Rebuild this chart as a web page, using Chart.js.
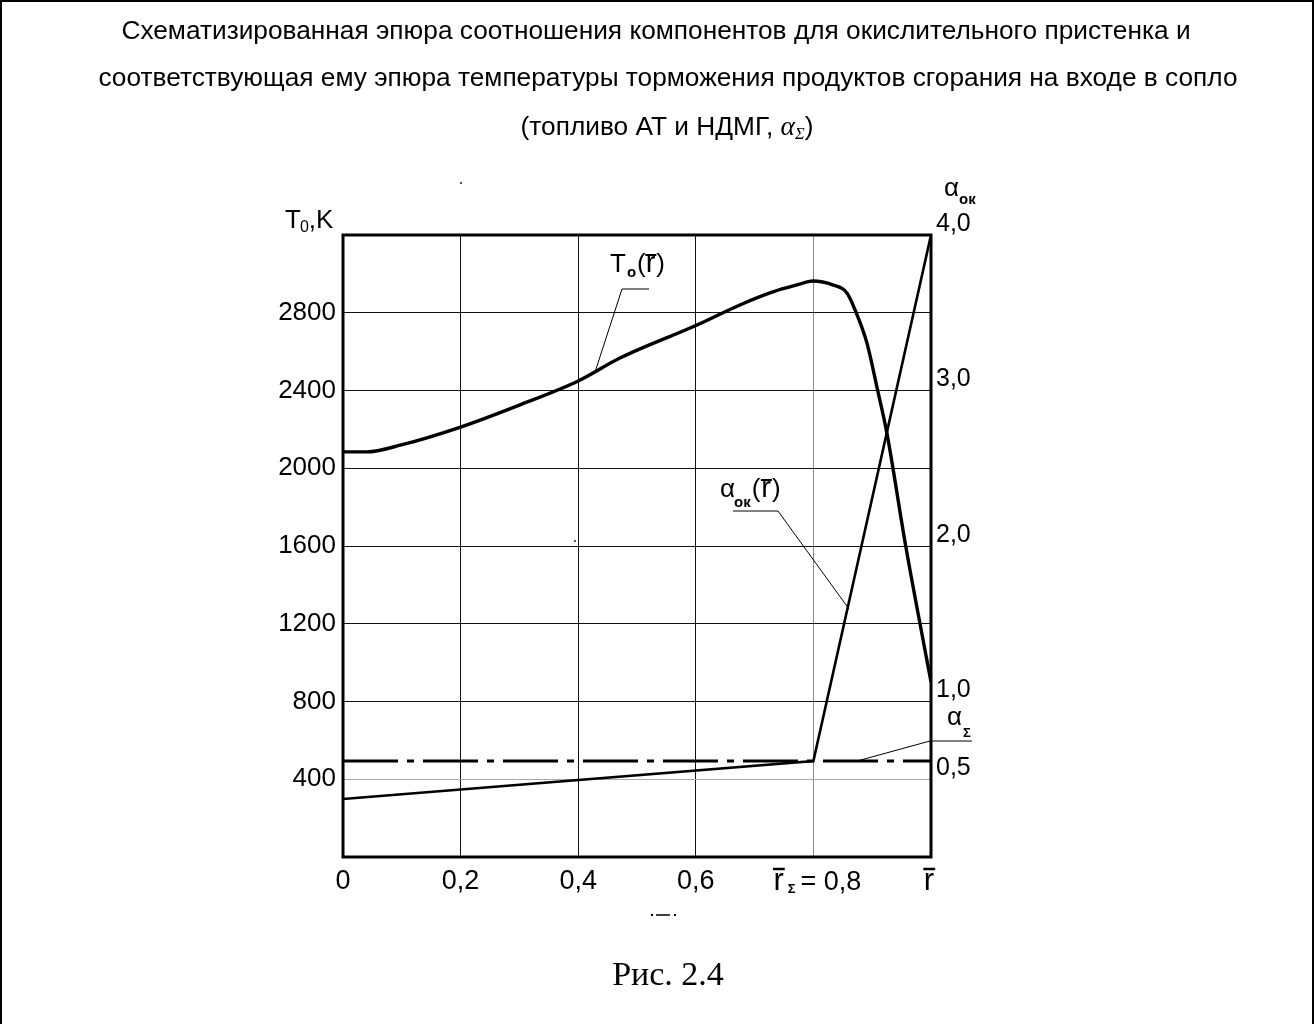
<!DOCTYPE html>
<html lang="ru">
<head>
<meta charset="utf-8">
<title>Эпюра</title>
<script src="https://cdn.jsdelivr.net/npm/chart.js@4.4.1/dist/chart.umd.min.js"></script>
<style>
html,body{margin:0;padding:0;background:#fff;overflow:hidden;}
canvas{display:block;}
</style>
</head>
<body>
<canvas id="chart" width="1314" height="1024"></canvas>
<script>
// ---------- data ----------
const titleLines = [
  'Схематизированная эпюра соотношения компонентов для окислительного пристенка и',
  'соответствующая ему эпюра температуры торможения продуктов сгорания на входе в сопло',
  '(топливо АТ и НДМГ, '
];
const caption = 'Рис. 2.4';

// relative radius r̄
const rBar = [0, 0.04, 0.099, 0.2, 0.3, 0.4, 0.471, 0.602, 0.675, 0.731, 0.772, 0.799, 0.833, 0.857, 0.871, 0.891, 0.908, 0.925, 0.957, 1.0];
// stagnation temperature T0, K
const T0 = [2084, 2084, 2120, 2212, 2325, 2449, 2567, 2737, 2840, 2907, 2943, 2963, 2943, 2902, 2814, 2645, 2418, 2181, 1600, 900];

// oxidizer/fuel ratio α_ок(r̄)
const alphaR = [0, 0.8, 1.0];
const alphaOk = [0.373, 0.617, 4.0];
// overall α_Σ
const alphaSigmaR = [0, 1.0];
const alphaSigma = 0.617;

// axes
const xTicks = [0, 0.2, 0.4, 0.6, 0.8, 1.0];
const xTickLabels = ['0', '0,2', '0,4', '0,6', 'r̄Σ = 0,8', 'r̄'];
const leftTicks = [400, 800, 1200, 1600, 2000, 2400, 2800];
const rightTicks = [0.5, 1, 2, 3, 4];
const rightTickLabels = ['0,5', '1,0', '2,0', '3,0', '4,0'];

// annotation anchor points (data coordinates)
const t0LabelTip = {x: 0.4286, y: 2495};
const alphaLabelTip = {x: 0.8605, y: 1.595};
const sigmaLabelTip = {x: 0.874, y: alphaSigma};

// ---------- drawing ----------
const SANS = '"Liberation Sans", Arial, Helvetica, sans-serif';
const SERIF = '"Liberation Serif", "Times New Roman", serif';

function drawRun(c, parts, x, y, align) {
  let w = 0;
  parts.forEach(p => { c.font = p.f; w += c.measureText(p.t).width + (p.dx || 0); });
  let cx = align === 'center' ? x - w / 2 : (align === 'right' ? x - w : x);
  c.textAlign = 'left';
  c.textBaseline = 'alphabetic';
  parts.forEach(p => {
    c.font = p.f;
    const pw = c.measureText(p.t).width;
    c.fillText(p.t, cx, y + (p.dy || 0));
    if (p.over) {
      c.save();
      c.lineWidth = p.overW || 2;
      c.beginPath();
      c.moveTo(cx - 0.5, y + (p.dy || 0) - p.over);
      c.lineTo(cx + pw + 1, y + (p.dy || 0) - p.over);
      c.stroke();
      c.restore();
    }
    cx += pw + (p.dx || 0);
  });
  return w;
}

function line(c, pts, w) {
  c.lineWidth = w;
  c.beginPath();
  c.moveTo(pts[0][0], pts[0][1]);
  for (let i = 1; i < pts.length; i++) c.lineTo(pts[i][0], pts[i][1]);
  c.stroke();
}

const overlay = {
  id: 'overlay',
  afterDraw(chart) {
    const c = chart.ctx, a = chart.chartArea;
    const xs = chart.scales.x, ys = chart.scales.y, y1 = chart.scales.y1;
    c.save();
    c.fillStyle = '#000';
    c.strokeStyle = '#000';

    // page frame
    line(c, [[1, 1024], [1, 1], [1313, 1], [1313, 1024]], 2);

    // plot frame
    c.lineWidth = 3;
    c.strokeRect(a.left, a.top, a.right - a.left, a.bottom - a.top);

    // title
    c.font = `100px ${SANS}`;
    const fs = 100 * 1140 / c.measureText(titleLines[1]).width;
    c.textAlign = 'center';
    c.textBaseline = 'alphabetic';
    c.font = `${fs}px ${SANS}`;
    c.fillText(titleLines[0], 656, 39);
    c.fillText(titleLines[1], 668, 86);
    drawRun(c, [
      {t: titleLines[2], f: `${fs}px ${SANS}`},
      {t: 'α', f: `italic ${fs * 1.05}px ${SERIF}`, dx: 0},
      {t: 'Σ', f: `italic ${fs * 0.62}px ${SERIF}`, dy: 4},
      {t: ')', f: `${fs}px ${SANS}`}
    ], 667, 135, 'center');

    // left axis title T0,K
    drawRun(c, [
      {t: 'T', f: `26px ${SANS}`, dx: -1},
      {t: '0', f: `16px ${SANS}`, dy: 4, dx: 0},
      {t: ',K', f: `26px ${SANS}`}
    ], 285, 228, 'left');

    // right axis title α_ок
    drawRun(c, [
      {t: 'α', f: `26px ${SANS}`, dx: 0},
      {t: 'ок', f: `bold 15px ${SANS}`, dy: 8}
    ], 944, 196, 'left');

    // special x tick labels
    const p08 = xs.getPixelForValue(xTicks[4]);
    drawRun(c, [
      {t: 'r', f: `31px ${SANS}`, over: 21, overW: 2.5, dx: 4},
      {t: 'Σ', f: `bold 13px ${SANS}`, dy: 3, dx: 5},
      {t: '= 0,8', f: `27px ${SANS}`}
    ], p08 + 4, 890, 'center');
    const p10 = xs.getPixelForValue(xTicks[5]);
    drawRun(c, [
      {t: 'r', f: `31px ${SANS}`, over: 21, overW: 2.5}
    ], p10 - 2, 890, 'center');

    // T0(r̄) label and leader
    drawRun(c, [
      {t: 'T', f: `26px ${SANS}`, dx: 1},
      {t: 'o', f: `bold 15px ${SANS}`, dy: 5, dx: 1},
      {t: '(', f: `26px ${SANS}`, dx: 0},
      {t: 'r', f: `29px ${SANS}`, over: 17, overW: 2, dx: 1},
      {t: ')', f: `26px ${SANS}`}
    ], 610, 272, 'left');
    const tT = [xs.getPixelForValue(t0LabelTip.x), ys.getPixelForValue(t0LabelTip.y)];
    line(c, [tT, [622, 289], [649, 289]], 1);

    // α_ок(r̄) label and leader
    drawRun(c, [
      {t: 'α', f: `26px ${SANS}`, dx: -1},
      {t: 'ок', f: `bold 15px ${SANS}`, dy: 10, dx: 1},
      {t: '(', f: `26px ${SANS}`, dx: 1},
      {t: 'r', f: `29px ${SANS}`, over: 17, overW: 2, dx: 1},
      {t: ')', f: `26px ${SANS}`}
    ], 720, 497, 'left');
    const tA = [xs.getPixelForValue(alphaLabelTip.x), y1.getPixelForValue(alphaLabelTip.y)];
    line(c, [tA, [778, 511], [733, 511]], 1);

    // α_Σ label and leader
    drawRun(c, [
      {t: 'α', f: `26px ${SANS}`, dx: 1},
      {t: 'Σ', f: `bold 13px ${SANS}`, dy: 12}
    ], 947, 725, 'left');
    const tS = [xs.getPixelForValue(sigmaLabelTip.x), y1.getPixelForValue(sigmaLabelTip.y)];
    line(c, [tS, [930, 741], [972, 741]], 1);

    // small stray marks of the original scan
    c.fillStyle = '#555';
    c.fillRect(460, 182, 2, 2);
    c.fillRect(574, 540, 2, 2);
    c.fillStyle = '#000';
    line(c, [[656, 915], [670, 915]], 1.5);
    c.fillRect(651, 914, 2, 2);
    c.fillRect(674, 914, 2, 2);

    // caption
    c.font = `34px ${SERIF}`;
    c.textAlign = 'center';
    c.fillText(caption, 668, 985);

    c.restore();
  }
};

const gridColorLeft = v => (v === 400 ? '#a8a8a8' : '#111');
const gridColorX = v => (v === 0 || v === 1 ? 'rgba(0,0,0,0)' : (v === 0.8 ? '#8a8a8a' : '#111'));

new Chart(document.getElementById('chart'), {
  type: 'line',
  data: {
    datasets: [
      {
        label: 'T0(r)',
        data: rBar.map((x, i) => ({x, y: T0[i]})),
        yAxisID: 'y',
        borderColor: '#000',
        borderWidth: 3.4,
        pointRadius: 0,
        cubicInterpolationMode: 'monotone',
        fill: false
      },
      {
        label: 'αок(r)',
        data: alphaR.map((x, i) => ({x, y: alphaOk[i]})),
        yAxisID: 'y1',
        borderColor: '#000',
        borderWidth: 2.6,
        pointRadius: 0,
        tension: 0,
        fill: false
      },
      {
        label: 'αΣ',
        data: alphaSigmaR.map(x => ({x, y: alphaSigma})),
        yAxisID: 'y1',
        borderColor: '#000',
        borderWidth: 3,
        borderDash: [55, 9, 7, 9],
        pointRadius: 0,
        fill: false
      }
    ]
  },
  options: {
    responsive: false,
    animation: false,
    devicePixelRatio: 1,
    events: [],
    layout: {padding: {top: 235, left: 0, right: 0, bottom: 0}},
    plugins: {legend: {display: false}, tooltip: {enabled: false}, title: {display: false}},
    scales: {
      x: {
        type: 'linear', position: 'bottom', min: 0, max: 1,
        afterBuildTicks: s => { s.ticks = xTicks.map(v => ({value: v})); },
        afterFit: s => { s.height = 1024 - 857; },
        border: {display: false},
        grid: {drawTicks: false, lineWidth: 1, color: ctx => gridColorX(ctx.tick && ctx.tick.value)},
        ticks: {
          padding: 8, color: '#000', maxRotation: 0, autoSkip: false,
          font: {family: SANS, size: 27},
          callback: (v, i) => (xTickLabels[i].startsWith('r') ? '' : xTickLabels[i])
        }
      },
      y: {
        type: 'linear', position: 'left', min: 0, max: 3200,
        afterBuildTicks: s => { s.ticks = leftTicks.map(v => ({value: v})); },
        afterFit: s => { s.width = 343; },
        border: {display: false},
        grid: {drawTicks: false, lineWidth: 1, color: ctx => gridColorLeft(ctx.tick && ctx.tick.value)},
        ticks: {padding: 7, color: '#000', font: {family: SANS, size: 26}, callback: v => String(v)}
      },
      y1: {
        type: 'linear', position: 'right', min: 0, max: 4,
        afterBuildTicks: s => { s.ticks = rightTicks.map(v => ({value: v})); },
        afterFit: s => { s.width = 1314 - 931; },
        border: {display: false},
        grid: {display: false, drawTicks: false},
        ticks: {
          padding: 5, labelOffset: -11, color: '#000', font: {family: SANS, size: 25},
          callback: (v, i) => rightTickLabels[i]
        }
      }
    }
  },
  plugins: [overlay]
});
</script>
</body>
</html>
